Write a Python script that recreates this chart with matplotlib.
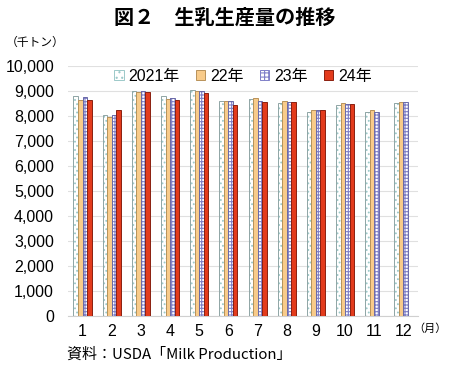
import numpy as np
import matplotlib
matplotlib.use("Agg")
import matplotlib.pyplot as plt
from matplotlib.patches import Patch

plt.rcParams['font.family'] = ['Liberation Sans', 'Noto Sans CJK JP', 'DejaVu Sans']
plt.rcParams['hatch.linewidth'] = 0.8

# data (thousand tonnes)
months = ['1', '2', '3', '4', '5', '6', '7', '8', '9', '10', '11', '12']
series_names = ['2021年', '22年', '23年', '24年']
y2021 = [8810, 8030, 9000, 8800, 9030, 8600, 8670, 8510, 8170, 8460, 8170, 8540]
y2022 = [8660, 7950, 8960, 8700, 8990, 8590, 8710, 8620, 8260, 8540, 8240, 8580]
y2023 = [8780, 8030, 9000, 8730, 9010, 8600, 8620, 8550, 8260, 8480, 8180, 8560]
y2024 = [8660, 8250, 8950, 8660, 8920, 8460, 8580, 8580, 8260, 8480]

# styles: face, hatch, hatch colour, edge colour
styles = [
    ('white', '....', '#9cc9c9', '#8fa5a5'),
    ('#f8cb8a', None, None, '#b8925a'),
    ('white', '+++++', '#8080c8', '#6a6aa8'),
    ('#e33b1c', None, None, '#8a2010'),
]

fig = plt.figure(figsize=(4.5, 3.71), dpi=100)
ax = fig.add_axes([0.151, 0.148, 0.778, 0.674])

x = np.arange(1, 13)
w = 0.155
all_series = [y2021, y2022, y2023, y2024]
handles = []
for i, (vals, (fc, hatch, hc, ec)) in enumerate(zip(all_series, styles)):
    xs = x[:len(vals)] + (i - 1.5) * w
    if hatch:
        ax.bar(xs, vals, w, color=fc, hatch=hatch, edgecolor=hc, linewidth=0, zorder=2)
        ax.bar(xs, vals, w, fill=False, edgecolor=ec, linewidth=0.7, zorder=3)
        handles.append(Patch(facecolor=fc, hatch='...' if hatch == '....' else '++++',
                             edgecolor=hc, linewidth=0.7))
    else:
        ax.bar(xs, vals, w, color=fc, edgecolor=ec, linewidth=0.7, zorder=3)
        handles.append(Patch(facecolor=fc, edgecolor=ec, linewidth=0.7))

ax.set_xlim(0.5, 12.5)
ax.set_ylim(0, 10000)
ax.set_yticks(range(0, 10001, 1000))
ax.set_yticklabels([f"{v:,}" for v in range(0, 10001, 1000)], fontsize=11.5)
ax.set_xticks(x)
ax.set_xticklabels(months, fontsize=11.5)
ax.tick_params(length=0, pad=6)
ax.tick_params(axis='y', pad=10)
ax.grid(axis='y', color='#e0e0e0', linewidth=0.8, zorder=0)
ax.set_axisbelow(True)
for s in ['top', 'right', 'left']:
    ax.spines[s].set_visible(False)
ax.spines['bottom'].set_color('#d0d0d0')

leg = ax.legend(handles, series_names, loc='center', bbox_to_anchor=(0.5, 0.96), ncol=4,
                frameon=False, fontsize=11.5, handlelength=0.6, handleheight=0.6,
                handletextpad=0.3, columnspacing=1.0)

fig.text(0.5, 0.955, '図２　生乳生産量の推移', ha='center', va='center',
         fontsize=14.5, fontweight='bold', family=['Noto Sans CJK JP'])
fig.text(0.012, 0.885, '（千トン）', ha='left', va='center', fontsize=8.5,
         family=['Noto Sans CJK JP'])
fig.text(0.918, 0.115, '（月）', ha='left', va='center', fontsize=8,
         family=['Noto Sans CJK JP'])
fig.text(0.148, 0.043, '資料：USDA「Milk Production」', ha='left', va='center', fontsize=10.8,
         family=['Noto Sans CJK JP'])

fig.savefig('out.png', dpi=100)
